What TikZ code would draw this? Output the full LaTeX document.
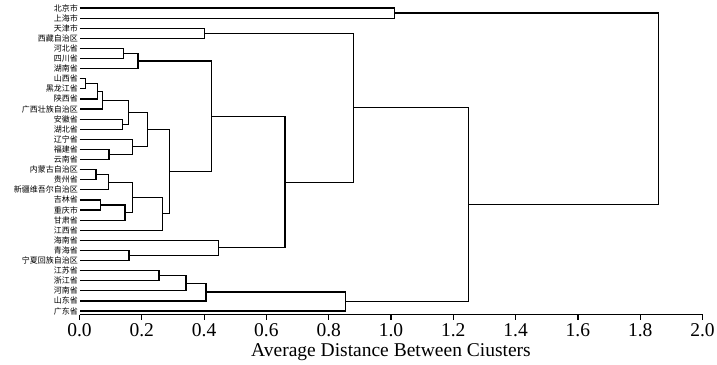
\documentclass[tikz,border=0pt]{standalone}
\usepackage{fontspec}
\setmainfont{Liberation Serif}
\newfontfamily\cjk{Noto Sans CJK SC}

\begin{document}
\begin{tikzpicture}[
  prov/.style={anchor=east,inner sep=1.5pt,font=\cjk\fontsize{8}{8}\selectfont},
  link/.style={line width=1.2pt},
  num/.style={anchor=base,inner sep=0pt,font=\fontsize{19.5}{20}\selectfont}]
\useasboundingbox (0,0) rectangle (717pt,-364pt);
\begin{scope}[shift={(79.5pt,2.1pt)},x=311.5pt,y=-10.1pt]
\foreach \name [count=\i] in {北京市,上海市,天津市,西藏自治区,河北省,四川省,湖南省,
  山西省,黑龙江省,陕西省,广西壮族自治区,安徽省,湖北省,辽宁省,福建省,云南省,
  内蒙古自治区,贵州省,新疆维吾尔自治区,吉林省,重庆市,甘肃省,江西省,
  海南省,青海省,宁夏回族自治区,江苏省,浙江省,河南省,山东省,广东省}
  \node[prov] (p\i) at (0,\i) {\name};

% merge points: name/distance/row/first/second
\foreach \m/\x/\y/\u/\v in {
  a/1.01/1.5/p1.east/p2.east, b/0.40/3.5/p3.east/p4.east,
  c1/0.14/5.5/p5.east/p6.east, c/0.188/6.25/c1/p7.east,
  d1/0.018/8.5/p8.east/p9.east, d2/0.057/9.25/d1/p10.east,
  d3/0.074/10.125/d2/p11.east, e1/0.137/12.5/p12.east/p13.east,
  d4/0.157/11.3125/d3/e1, f1/0.095/15.5/p15.east/p16.east,
  f2/0.17/14.75/p14.east/f1, d5/0.219/13.03/d4/f2,
  g1/0.053/17.5/p17.east/p18.east, g2/0.092/18.25/g1/p19.east,
  h1/0.068/20.5/p20.east/p21.east, h2/0.146/21.25/h1/p22.east,
  g3/0.17/19.75/g2/h2, g4/0.267/21.375/g3/p23.east,
  i/0.288/17.203/d5/g4, j/0.425/11.727/c/i,
  k1/0.159/25.5/p25.east/p26.east, k/0.445/24.75/p24.east/k1,
  l/0.66/18.238/j/k, m/0.88/10.869/b/l,
  n1/0.255/27.5/p27.east/p28.east, n2/0.342/28.25/n1/p29.east,
  n3/0.406/29.125/n2/p30.east, n/0.855/30.0625/n3/p31.east,
  o/1.25/20.466/m/n, r/1.86/10.983/a/o}
{
  \coordinate (\m) at (\x,\y);
  \draw[link] (\u) -| (\m) |- (\v);
}

% axis
\coordinate (x0) at (0,31.35);
\coordinate (x1) at (2,31.35);
\draw[link] (x0) -- (x1);
\foreach \t [count=\i] in {0.0,0.2,0.4,0.6,0.8,1.0,1.2,1.4,1.6,1.8,2.0}
{
  \draw[link] (\t,31.35) -- ++(0pt,-5pt);
  \node[num] (t\i) at (\t,33.57) {\t};
}
\node[num] (xlab) at (1,35.55) {Average Distance Between Ciusters};
\end{scope}
\end{tikzpicture}
\end{document}
